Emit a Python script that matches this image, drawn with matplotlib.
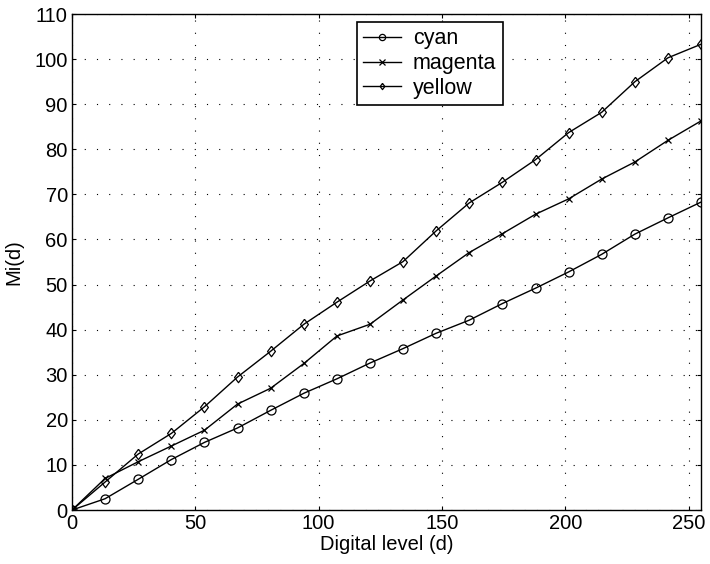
import matplotlib
matplotlib.use('Agg')
import matplotlib.pyplot as plt
import numpy as np

# Digital levels sampled along the ramp
LEVELS = [0, 13.4, 26.8, 40.3, 53.7, 67.1, 80.5, 94, 107.4, 120.8,
          134.2, 147.6, 161, 174.5, 187.9, 201.3, 214.7, 228.2, 241.6, 255]

CYAN = [0, 2.5, 6.8, 11.2, 15, 18.2, 22.1, 25.9, 29.1, 32.6,
        35.8, 39.2, 42.1, 45.8, 49.2, 52.8, 56.7, 61.2, 64.8, 68.3]
MAGENTA = [0, 7, 10.7, 14.2, 17.7, 23.5, 27, 32.5, 38.6, 41.2,
           46.6, 51.9, 57.1, 61.3, 65.6, 69, 73.4, 77.2, 82, 86.3]
YELLOW = [0, 6.2, 12.4, 17, 22.9, 29.5, 35.2, 41.2, 46.1, 50.8,
          55.1, 61.9, 68.1, 72.7, 77.7, 83.7, 88.2, 95, 100.3, 103.3]

plt.rcParams['font.family'] = ['Liberation Sans', 'DejaVu Sans']

# a diamond a bit wider than matplotlib's thin 'd'
DIAMOND = [(0, 1), (0.75, 0), (0, -1), (-0.75, 0), (0, 1)]

fig = plt.figure(figsize=(7.1, 5.64), dpi=100)
ax = fig.add_axes([0.1014, 0.0957, 0.886, 0.8794])

ax.plot(LEVELS, CYAN, 'k-', marker='o', mfc='none', ms=6.5, mew=0.9,
        lw=1, label='cyan')
ax.plot(LEVELS, MAGENTA, 'k-', marker='x', ms=4.5, mew=0.9,
        lw=1, label='magenta')
ax.plot(LEVELS, YELLOW, 'k-', marker=DIAMOND, mfc='none', ms=7.5, mew=0.9,
        lw=1, label='yellow')

ax.set_xlim(0, 255)
ax.set_ylim(0, 110)
ax.set_xticks([0, 50, 100, 150, 200, 250])
ax.set_yticks(np.arange(0, 111, 10))
ax.tick_params(direction='in', top=True, right=True, labelsize=14.5,
               length=3, width=0.8, pad=3)
ax.grid(True, color='k', linestyle=(0, (1, 10)), linewidth=0.8)
for s in ax.spines.values():
    s.set_linewidth(1)

ax.set_xlabel('Digital level (d)', fontsize=14.5, labelpad=1)
ax.set_ylabel('Mi(d)', fontsize=14.5, labelpad=8)

leg = ax.legend(loc='upper left', bbox_to_anchor=(0.453, 0.984),
                borderaxespad=0, fontsize=15.5,
                fancybox=False, framealpha=1, edgecolor='k',
                handlelength=1.75, borderpad=0.3, labelspacing=0.17,
                handletextpad=0.55)
leg.get_frame().set_linewidth(1.2)
for h in leg.legend_handles:
    h.set_markersize(4.5)

fig.savefig('out.png', dpi=100)
